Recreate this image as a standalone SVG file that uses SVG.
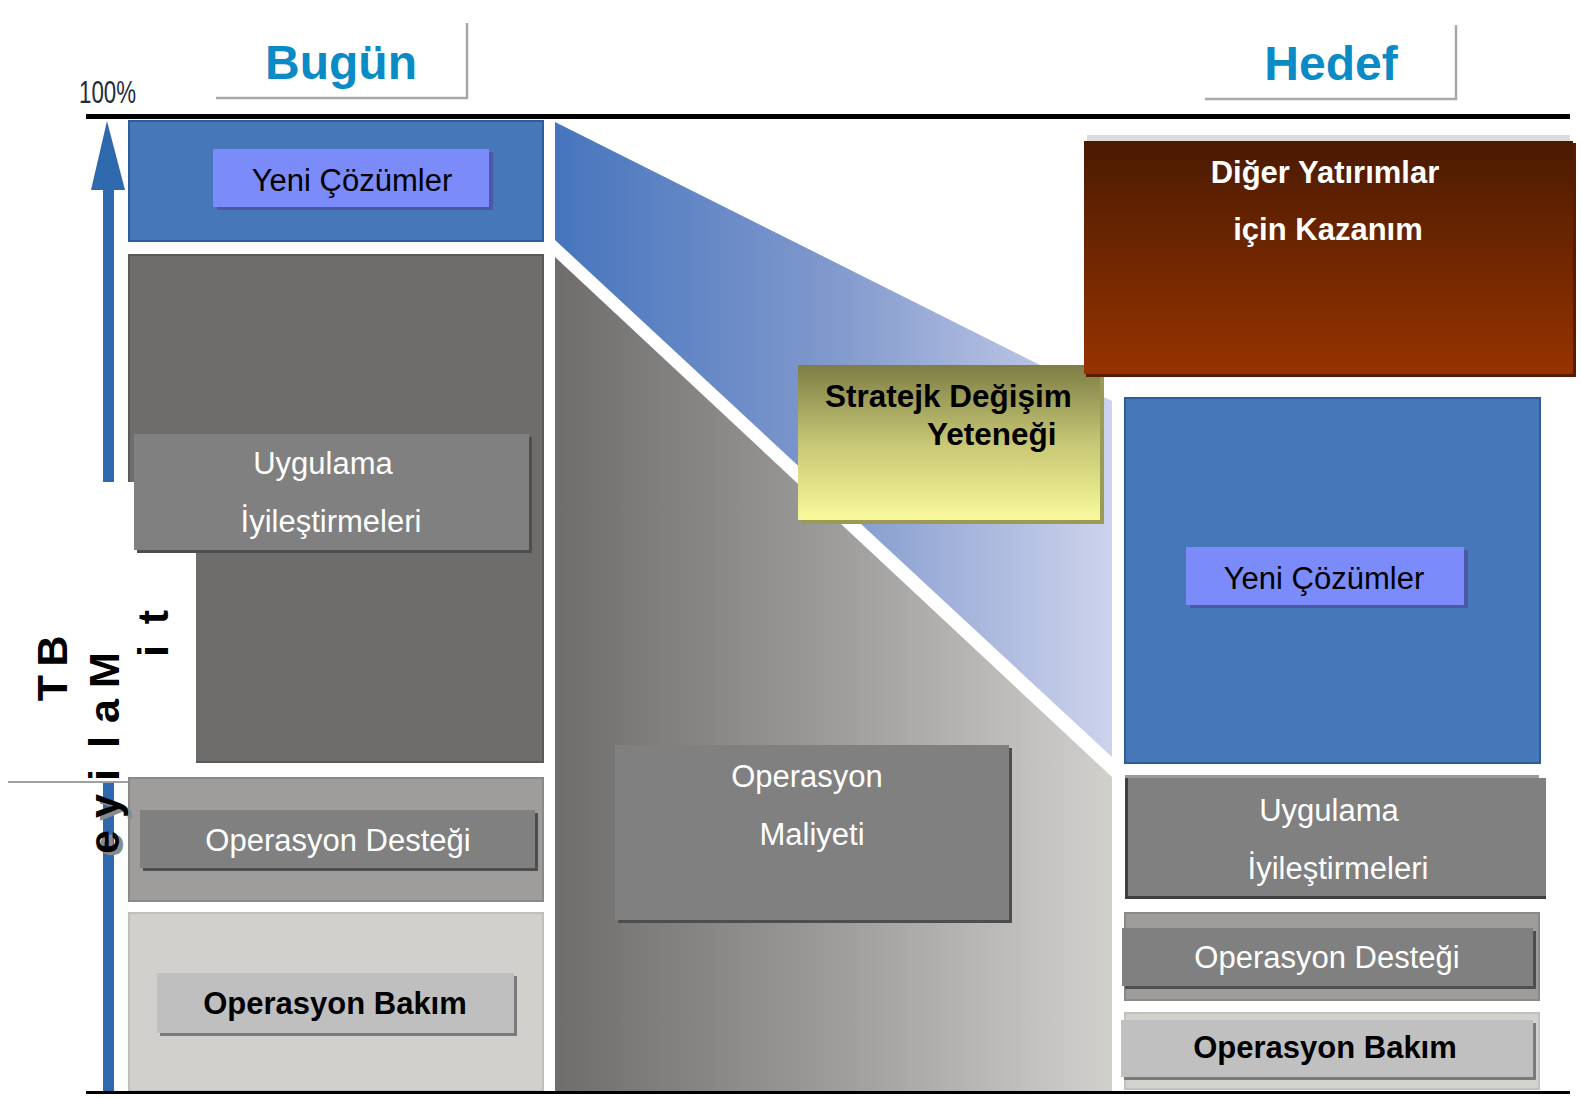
<svg xmlns="http://www.w3.org/2000/svg" width="1581" height="1098" viewBox="0 0 1581 1098">
<defs>
<linearGradient id="gMidBlue" x1="555" y1="0" x2="1112" y2="0" gradientUnits="userSpaceOnUse">
<stop offset="0" stop-color="#4675bd"/><stop offset="0.5" stop-color="#8199cd"/><stop offset="1" stop-color="#cdd3ec"/>
</linearGradient>
<linearGradient id="gMidGray" x1="555" y1="0" x2="1112" y2="0" gradientUnits="userSpaceOnUse">
<stop offset="0" stop-color="#6e6d6b"/><stop offset="0.45" stop-color="#999796"/><stop offset="1" stop-color="#d2d0cd"/>
</linearGradient>
<linearGradient id="gBrown" x1="0" y1="0" x2="0" y2="1">
<stop offset="0" stop-color="#4a1a00"/><stop offset="1" stop-color="#973300"/>
</linearGradient>
<linearGradient id="gYellow" x1="0" y1="0" x2="0" y2="1">
<stop offset="0" stop-color="#7e7d46"/><stop offset="0.5" stop-color="#c6c674"/><stop offset="1" stop-color="#f9f99c"/>
</linearGradient>
</defs>
<style>
text{font-family:"Liberation Sans",Arial,sans-serif}
.hdr{font-size:48px;font-weight:bold;fill:#0a8bc6;text-anchor:middle}
.lbl{font-size:31px;text-anchor:middle}
.w{fill:#ffffff}
.k{fill:#000000}
.b{font-weight:bold}
.blue{fill:#4677b9;stroke:#2e5c98;stroke-width:2}
.yeni{fill:#7b8bfa}
.yeniSh{fill:#4b58a6}
.box{fill:#808080}
.boxSh{fill:#4e4e4e}
.ax{font-size:43px;font-weight:bold;fill:#000;text-anchor:middle}
.axs{font-size:43px;font-weight:bold;fill:#8a8a8a;text-anchor:middle}
</style>
<rect width="1581" height="1098" fill="#ffffff"/>

<g id="header-bugun">
<rect x="216" y="23" width="252" height="76" fill="#ffffff"/>
<path d="M467 23 V98 H216" fill="none" stroke="#a8a8a8" stroke-width="2.5"/>
<text class="hdr" x="341" y="79">Bugün</text>
</g>
<g id="header-hedef">
<rect x="1205" y="25" width="252" height="75" fill="#ffffff"/>
<path d="M1456 25 V99 H1205" fill="none" stroke="#a8a8a8" stroke-width="2.5"/>
<text class="hdr" x="1331" y="80">Hedef</text>
</g>

<g id="scale-100">
<text x="79" y="103" font-size="31" fill="#1f2c3c" textLength="57" lengthAdjust="spacingAndGlyphs">100%</text>
</g>

<g id="axis-arrow">
<rect x="103" y="186" width="11" height="907" fill="#2e68ad"/>
<polygon points="107,121 91,190 125,190" fill="#2e68ad"/>
</g>

<g id="today-yeni">
<rect class="blue" x="129" y="121" width="414" height="120"/>
<rect class="yeniSh" x="217" y="152" width="276" height="58"/>
<rect class="yeni" x="213" y="149" width="276" height="58"/>
<text class="lbl k" x="352" y="191">Yeni Çözümler</text>
</g>

<g id="today-uygulama-band">
<rect x="129" y="255" width="414" height="507" fill="#6e6d6b" stroke="#5a5958" stroke-width="2"/>
</g>

<g id="axis-label-box">
<rect x="8" y="482" width="188" height="300" fill="#ffffff"/>
<line x1="8" y1="782" x2="196" y2="782" stroke="#a0a0a0" stroke-width="2"/>
</g>

<g id="today-uygulama">
<rect class="boxSh" x="137" y="437" width="395" height="116"/>
<rect class="box" x="134" y="434" width="395" height="116"/>
<text class="lbl w" x="323" y="474">Uygulama</text>
<text class="lbl w" x="331" y="532">İyileştirmeleri</text>
</g>

<g id="today-destek">
<rect x="129" y="778" width="414" height="123" fill="#9e9d9b" stroke="#8a8987" stroke-width="2"/>
<rect class="boxSh" x="143" y="813" width="395" height="58"/>
<rect class="box" x="140" y="810" width="395" height="58"/>
<text class="lbl w" x="338" y="851">Operasyon Desteği</text>
</g>

<g id="today-bakim">
<rect x="129" y="913" width="414" height="178" fill="#d1d0cd" stroke="#c0bfbc" stroke-width="2"/>
<rect x="160" y="976" width="357" height="60" fill="#7a7a7a"/>
<rect x="157" y="973" width="357" height="60" fill="#bfbfbf"/>
<text class="lbl k b" x="335" y="1014">Operasyon Bakım</text>
</g>

<g id="axis-label">
<text class="ax" transform="translate(67,688) rotate(-90)">T</text>
<text class="ax" transform="translate(67,651) rotate(-90)">B</text>
<text class="ax" transform="translate(119,670) rotate(-90)">M</text>
<text class="ax" transform="translate(119,711) rotate(-90)">a</text>
<text class="ax" transform="translate(119,742) rotate(-90)">l</text>
<text class="ax" transform="translate(119,775) rotate(-90)">i</text>
<text class="axs" transform="translate(123,809) rotate(-90)">y</text>
<text class="axs" transform="translate(123,845) rotate(-90)">e</text>
<text class="ax" transform="translate(119,806) rotate(-90)">y</text>
<text class="ax" transform="translate(119,842) rotate(-90)">e</text>
<text class="ax" transform="translate(168,617) rotate(-90)">t</text>
<text class="ax" transform="translate(168,651) rotate(-90)">i</text>
</g>

<g id="connectors">
<polygon id="shift-blue" points="555,122 1112,401 1112,757 555,240" fill="url(#gMidBlue)"/>
<polygon id="shift-gray" points="555,257 1112,777 1112,1092 555,1092" fill="url(#gMidGray)"/>
</g>

<g id="operasyon-maliyeti">
<rect class="boxSh" x="618" y="748" width="394" height="175"/>
<rect class="box" x="615" y="745" width="394" height="175"/>
<text class="lbl w" x="807" y="787">Operasyon</text>
<text class="lbl w" x="812" y="845">Maliyeti</text>
</g>

<g id="stratejik">
<rect x="802" y="369" width="302" height="155" fill="#9c9b55"/>
<rect x="798" y="365" width="302" height="155" fill="url(#gYellow)"/>
<text class="k b" x="825" y="407" font-size="31.5">Stratejk Değişim</text>
<text class="k b" x="927" y="445" font-size="31.5">Yeteneği</text>
</g>

<g id="diger-yatirimlar">
<rect x="1087" y="135" width="483" height="8" fill="#dcdcdc"/>
<rect x="1086" y="143" width="490" height="234" fill="#5a1c00"/>
<rect x="1084" y="141" width="489" height="233" fill="url(#gBrown)"/>
<text class="lbl w b" x="1325" y="183">Diğer Yatırımlar</text>
<text class="lbl w b" x="1328" y="240">için Kazanım</text>
</g>

<g id="target-yeni">
<rect class="blue" x="1125" y="398" width="415" height="365"/>
<rect class="yeniSh" x="1190" y="550" width="278" height="58"/>
<rect class="yeni" x="1186" y="547" width="278" height="58"/>
<text class="lbl k" x="1324" y="589">Yeni Çözümler</text>
</g>

<g id="target-uygulama">
<rect x="1125" y="775" width="414" height="124" fill="#9a9a9a"/>
<rect x="1125" y="778" width="421" height="121" fill="#3e3e3e"/>
<rect class="box" x="1128" y="778" width="418" height="118"/>
<text class="lbl w" x="1329" y="821">Uygulama</text>
<text class="lbl w" x="1338" y="879">İyileştirmeleri</text>
</g>

<g id="target-destek">
<rect x="1125" y="913" width="414" height="87" fill="#9e9d9b" stroke="#8a8987" stroke-width="2"/>
<rect class="boxSh" x="1125" y="931" width="411" height="58"/>
<rect class="box" x="1122" y="928" width="411" height="58"/>
<text class="lbl w" x="1327" y="968">Operasyon Desteği</text>
</g>

<g id="target-bakim">
<rect x="1125" y="1013" width="414" height="76" fill="#d3d2cf" stroke="#c2c1be" stroke-width="2"/>
<rect x="1124" y="1023" width="412" height="57" fill="#7a7a7a"/>
<rect x="1121" y="1020" width="412" height="57" fill="#c0c0c0"/>
<text class="lbl k b" x="1325" y="1058">Operasyon Bakım</text>
</g>

<g id="baselines">
<rect x="86" y="114" width="1484" height="5" fill="#000000"/>
<rect x="86" y="1091" width="1484" height="3" fill="#000000"/>
</g>
</svg>
